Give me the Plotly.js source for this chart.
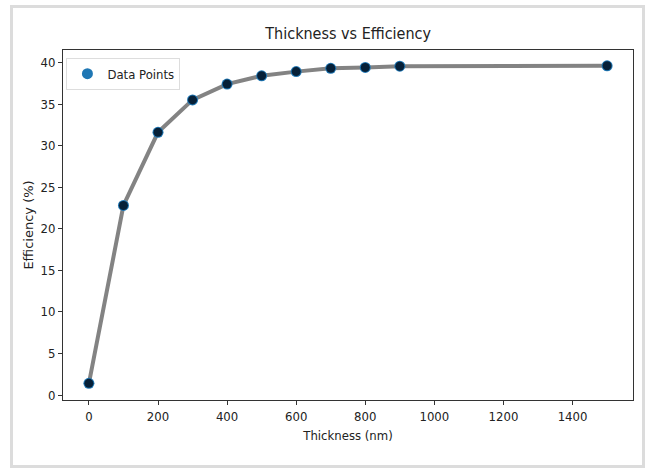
<!DOCTYPE html>
<html><head><meta charset="utf-8">
<script src="https://cdn.plot.ly/plotly-3.0.1.min.js"></script>
<style>
body{margin:0;background:#fff;}
#chart{width:652px;height:468px;position:absolute;left:0;top:0;}
#frame{position:absolute;left:10px;top:5px;width:629px;height:457px;border:3px solid #dcdcdc;pointer-events:none;}
</style></head>
<body>
<div id="chart"></div><div id="frame"></div>
<script>
const thickness = [0, 100, 200, 300, 400, 500, 600, 700, 800, 900, 1500];
const efficiency = [1.4, 22.8, 31.6, 35.5, 37.4, 38.4, 38.9, 39.3, 39.4, 39.55, 39.6];
const xTicks = [0, 200, 400, 600, 800, 1000, 1200, 1400];
const yTicks = [0, 5, 10, 15, 20, 25, 30, 35, 40];

const fnt = '"Liberation Sans Narrow", "DejaVu Sans Condensed", "Liberation Sans", sans-serif';
const traces = [
  {x: thickness, y: efficiency, mode: 'lines', line: {color: 'rgba(100,100,100,0.8)', width: 4}, showlegend: false, hoverinfo: 'skip'},
  {x: thickness, y: efficiency, mode: 'markers', name: 'Data Points', marker: {color: '#1f77b4', size: 11}},
  {x: thickness, y: efficiency, mode: 'markers', showlegend: false, marker: {color: 'rgba(0,10,25,0.8)', size: 9}}
];
const layout = {
  width: 652, height: 468,
  margin: {l: 63, r: 19, t: 50, b: 68},
  paper_bgcolor: '#fff', plot_bgcolor: '#fff',
  font: {family: fnt, size: 13, color: '#222'},
  title: {text: 'Thickness vs Efficiency', x: 0.534, xanchor: 'center', y: 0.928, yanchor: 'middle', font: {family: fnt, size: 16, color: '#222'}},
  xaxis: {range: [-75, 1575], tickvals: xTicks, ticks: 'outside', ticklen: 4, tickcolor: '#333', showgrid: false, zeroline: false,
    showline: true, linecolor: '#333', linewidth: 1, mirror: true,
    title: {text: 'Thickness (nm)', font: {family: fnt, size: 13}, standoff: 8}},
  yaxis: {range: [-0.6, 41.5], tickvals: yTicks, ticks: 'outside', ticklen: 4, tickcolor: '#333', showgrid: false, zeroline: false,
    showline: true, linecolor: '#333', linewidth: 1, mirror: true,
    title: {text: 'Efficiency (%)', font: {family: '"DejaVu Sans", sans-serif', size: 13}, standoff: 3}},
  legend: {x: 0.006, y: 0.978, xanchor: 'left', yanchor: 'top', bgcolor: '#fff', bordercolor: '#ddd', borderwidth: 1, font: {family: fnt, size: 13}}
};
Plotly.newPlot('chart', traces, layout, {displayModeBar: false, staticPlot: true});
</script>
</body></html>
